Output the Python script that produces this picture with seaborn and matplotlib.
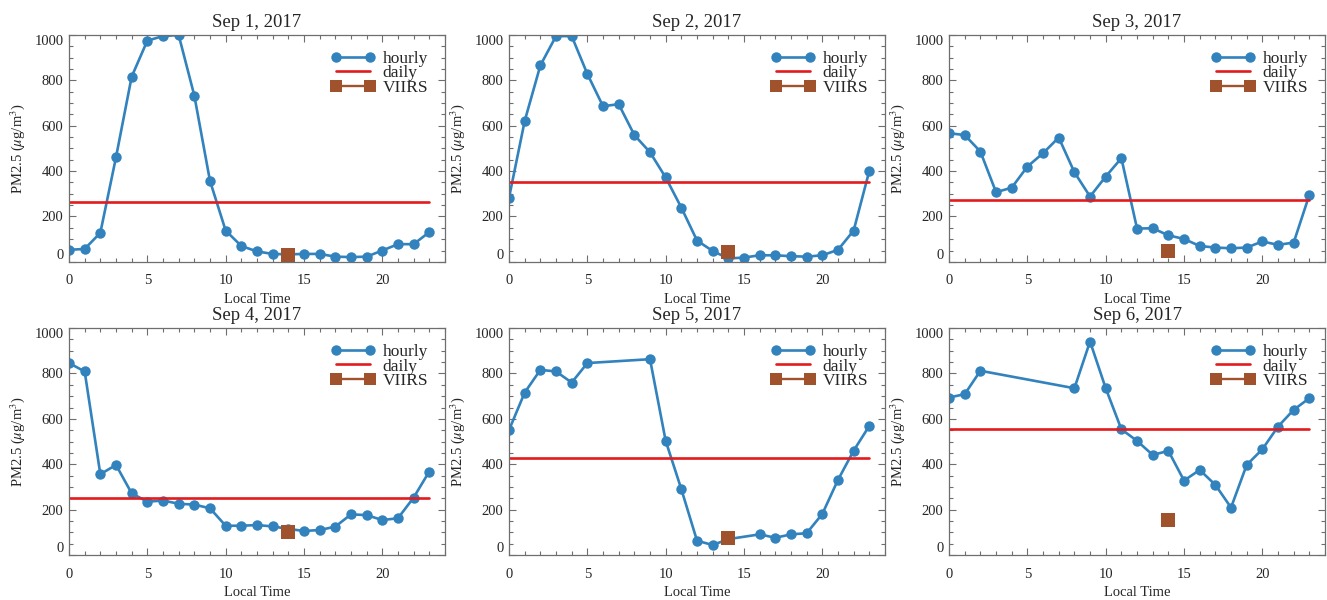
import numpy as np
import pandas as pd
import matplotlib
matplotlib.use("Agg")
import matplotlib.pyplot as plt
import seaborn as sns
from matplotlib.ticker import MultipleLocator

# ---- data -------------------------------------------------------------
days = ["Sep 1, 2017", "Sep 2, 2017", "Sep 3, 2017",
        "Sep 4, 2017", "Sep 5, 2017", "Sep 6, 2017"]
hours = list(range(24))
nan = np.nan

# hourly PM2.5 (ug/m3); NaN = no observation for that hour
sep1 = [53, 57, 128, 461, 816, 975, 995, 1000, 733, 357, 138, 70,
        46, 35, 33, 35, 35, 23, 21, 23, 50, 78, 78, 131]
sep2 = [283, 621, 866, 995, 995, 828, 686, 695, 559, 483, 372, 239,
        94, 48, 15, 19, 29, 29, 25, 23, 29, 53, 138, 401]
sep3 = [567, 559, 486, 307, 327, 420, 479, 548, 395, 288, 376, 457,
        147, 148, 117, 101, 70, 63, 60, 63, 90, 75, 85, 295]
sep4 = [846, 809, 356, 397, 272, 235, 240, 226, 222, 206, 129, 129,
        132, 126, 115, 106, 110, 125, 179, 176, 154, 162, 253, 368]
sep5 = [551, 716, 816, 809, 760, 846, nan, nan, nan, 863, 503, 290,
        63, 44, 70, nan, 91, 76, 91, 96, 181, 331, 460, 569]
sep6 = [694, 709, 812, nan, nan, nan, nan, nan, 735, 941, 735, 554,
        503, 441, 459, 328, 375, 309, 209, 397, 466, 566, 640, 691]
hourly = [sep1, sep2, sep3, sep4, sep5, sep6]

daily_means = [266, 354, 273, 253, 429, 554]
viirs_hour = 14
viirs_values = [31, 43, 50, 100, 74, 154]

xticks = [0, 5, 10, 15, 20]
yticks = [0, 200, 400, 600, 800, 1000]

# ---- style ------------------------------------------------------------
sns.set_theme(style="ticks")
plt.rcParams["font.family"] = ["Liberation Serif", "DejaVu Serif"]
plt.rcParams["mathtext.fontset"] = "stix"

BLUE = "#3182bd"
RED = "#e41a1c"
BROWN = "#a0522d"
FRAME = "#6e6e6e"

fig, axes = plt.subplots(2, 3, figsize=(13.27, 6.0), dpi=100)
fig.subplots_adjust(left=0.052, right=0.9985, top=0.9417, bottom=0.075,
                    wspace=0.1705, hspace=0.292)

for ax, day, vals, dmean, vval in zip(axes.flat, days, hourly,
                                      daily_means, viirs_values):
    df = pd.DataFrame({"hour": hours, "pm25": vals}).dropna()
    sns.lineplot(data=df, x="hour", y="pm25", ax=ax, color=BLUE, lw=1.9,
                 marker="o", ms=7.5, mec=BLUE, mew=0, label="hourly")
    span = pd.DataFrame({"hour": [hours[0], hours[-1]],
                         "pm25": [dmean, dmean]})
    sns.lineplot(data=span, x="hour", y="pm25", ax=ax, color=RED, lw=1.9,
                 label="daily")
    sat = pd.DataFrame({"hour": [viirs_hour], "pm25": [vval]})
    sns.lineplot(data=sat, x="hour", y="pm25", ax=ax, color=BROWN, lw=1.7,
                 marker="s", ms=10, mec=BROWN, mew=0, label="VIIRS")

    ax.set_xlim(0, 24)
    ax.set_ylim(0, 1000)
    ax.set_xticks(xticks)
    ax.set_yticks(yticks)
    ax.xaxis.set_minor_locator(MultipleLocator(1))
    ax.yaxis.set_minor_locator(MultipleLocator(50))
    ax.tick_params(which="both", direction="in", top=True, right=True,
                   color=FRAME, width=0.8, labelsize=10.5)
    ax.tick_params(which="major", length=5)
    ax.tick_params(which="minor", length=3)
    ax.tick_params(axis="x", pad=9)
    ax.tick_params(axis="y", pad=4)
    for sp in ax.spines.values():
        sp.set_color(FRAME)
        sp.set_linewidth(0.9)

    ax.set_title(day, fontsize=13.5, pad=6)
    ax.set_xlabel("Local Time", fontsize=10.5, labelpad=4)
    ax.set_ylabel(r"PM2.5 ($\mu$g/m$^3$)", fontsize=10.5, labelpad=5)

    # end labels sit inside the axis range
    ylabels = ax.get_yticklabels()
    ylabels[0].set_verticalalignment("bottom")
    ylabels[-1].set_verticalalignment("top")

    leg = ax.legend(loc="upper right", bbox_to_anchor=(0.955, 0.93),
                    frameon=False, fontsize=12.5, numpoints=2,
                    handlelength=2.55, handletextpad=0.42,
                    labelspacing=-0.1, borderpad=0, borderaxespad=0)
    leg.legend_handles[2].set_markersize(8)

fig.savefig("out.png", dpi=100)
